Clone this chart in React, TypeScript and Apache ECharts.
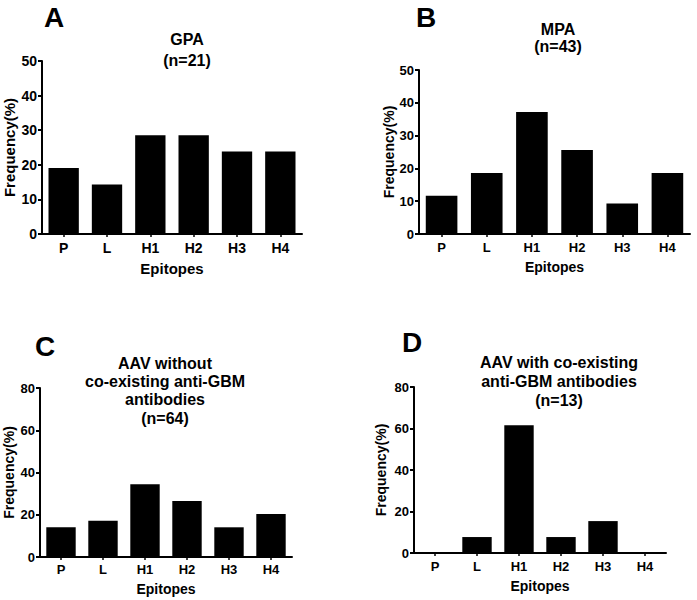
import React, { useEffect, useRef } from "react";
import * as echarts from "echarts";

const epitopes = ["P", "L", "H1", "H2", "H3", "H4"];
const gpaValues = [19.05, 14.29, 28.57, 28.57, 23.81, 23.81];
const mpaValues = [11.63, 18.6, 37.21, 25.58, 9.3, 18.6];
const aavWithoutValues = [14.06, 17.19, 34.38, 26.56, 14.06, 20.31];
const aavWithValues = [0, 7.69, 61.54, 7.69, 15.38, 0];
const panelLetters = ["A", "B", "C", "D"];
const panelTitles = [
  ["GPA", "(n=21)"],
  ["MPA", "(n=43)"],
  ["AAV without", "co-existing anti-GBM", "antibodies", "(n=64)"],
  ["AAV with co-existing", "anti-GBM antibodies", "(n=13)"],
];
const yMaxes = [50, 50, 80, 80];
const yIntervals = [10, 10, 20, 20];
const xAxisName = "Epitopes";
const yAxisName = "Frequency(%)";

const seriesValues = [gpaValues, mpaValues, aavWithoutValues, aavWithValues];

const FONT = '"Liberation Sans", Arial, Helvetica, sans-serif';

const layouts = [
  { grid: { left: 42, top: 61, width: 260, height: 173 }, fs: 14, xMargin: 7, xGap: 27, yGap: 25, letter: [54, 17], tx: 187, ty: [39, 60] },
  { grid: { left: 419, top: 70, width: 271, height: 164 }, fs: 13, xMargin: 7, xGap: 26, yGap: 22, letter: [426, 17.5], tx: 558, ty: [29, 46] },
  { grid: { left: 40, top: 388, width: 252, height: 169 }, fs: 13, xMargin: 6, xGap: 25, yGap: 24, letter: [45, 346], tx: 165, ty: [363.5, 381.5, 399, 418.5] },
  { grid: { left: 414, top: 387, width: 252, height: 166 }, fs: 13, xMargin: 7, xGap: 26, yGap: 26, letter: [412, 342], tx: 559, ty: [362.5, 381, 400] },
];

export default function App() {
  const ref = useRef<HTMLDivElement>(null);
  useEffect(() => {
    if (!ref.current) return;
    const chart = echarts.init(ref.current, undefined, { renderer: "svg" });
    const grids = layouts.map((l) => ({ ...l.grid, containLabel: false, outerBoundsMode: "none" }));
    const xAxes = layouts.map((l, i) => ({
      type: "category",
      gridIndex: i,
      data: epitopes,
      axisLine: { show: true, lineStyle: { color: "#000", width: 2 } },
      axisTick: { show: true, alignWithLabel: true, length: 3, lineStyle: { color: "#000", width: 1.5 } },
      axisLabel: { color: "#000", fontWeight: "bold", fontFamily: FONT, fontSize: l.fs, margin: l.xMargin },
      name: xAxisName,
      nameLocation: "middle",
      nameGap: l.xGap,
      nameTextStyle: { color: "#000", fontWeight: "bold", fontFamily: FONT, fontSize: l.fs + 1 },
      splitLine: { show: false },
    }));
    const yAxes = layouts.map((l, i) => ({
      type: "value",
      gridIndex: i,
      min: 0,
      max: yMaxes[i],
      interval: yIntervals[i],
      axisLine: { show: true, lineStyle: { color: "#000", width: 2 } },
      axisTick: { show: true, length: 4, lineStyle: { color: "#000", width: 2 } },
      axisLabel: { color: "#000", fontWeight: "bold", fontFamily: FONT, fontSize: l.fs, margin: 5 },
      splitLine: { show: false },
      name: yAxisName,
      nameLocation: "middle",
      nameRotate: 90,
      nameGap: l.yGap,
      nameTextStyle: { color: "#000", fontWeight: "bold", fontFamily: FONT, fontSize: l.fs + 1 },
    }));
    const series = seriesValues.map((vals, i) => ({
      type: "bar",
      xAxisIndex: i,
      yAxisIndex: i,
      data: vals,
      barWidth: "70%",
      itemStyle: { color: "#000" },
    }));
    const graphics: any[] = [];
    layouts.forEach((l, i) => {
      graphics.push({
        type: "text",
        x: l.letter[0],
        y: l.letter[1],
        style: { text: panelLetters[i], align: "center", verticalAlign: "middle", font: `bold 28px ${FONT}`, fill: "#000" },
      });
      panelTitles[i].forEach((line, j) => {
        graphics.push({
          type: "text",
          x: l.tx,
          y: l.ty[j],
          style: { text: line, align: "center", verticalAlign: "middle", font: `bold 16px ${FONT}`, fill: "#000" },
        });
      });
    });
    chart.setOption({
      animation: false,
      backgroundColor: "#fff",
      grid: grids,
      xAxis: xAxes,
      yAxis: yAxes,
      series,
      graphic: graphics,
    } as any);
    return () => chart.dispose();
  }, []);
  return (
    <div
      ref={ref}
      style={{ position: "fixed", left: 0, top: 0, width: 697, height: 600, background: "#fff" }}
    />
  );
}
